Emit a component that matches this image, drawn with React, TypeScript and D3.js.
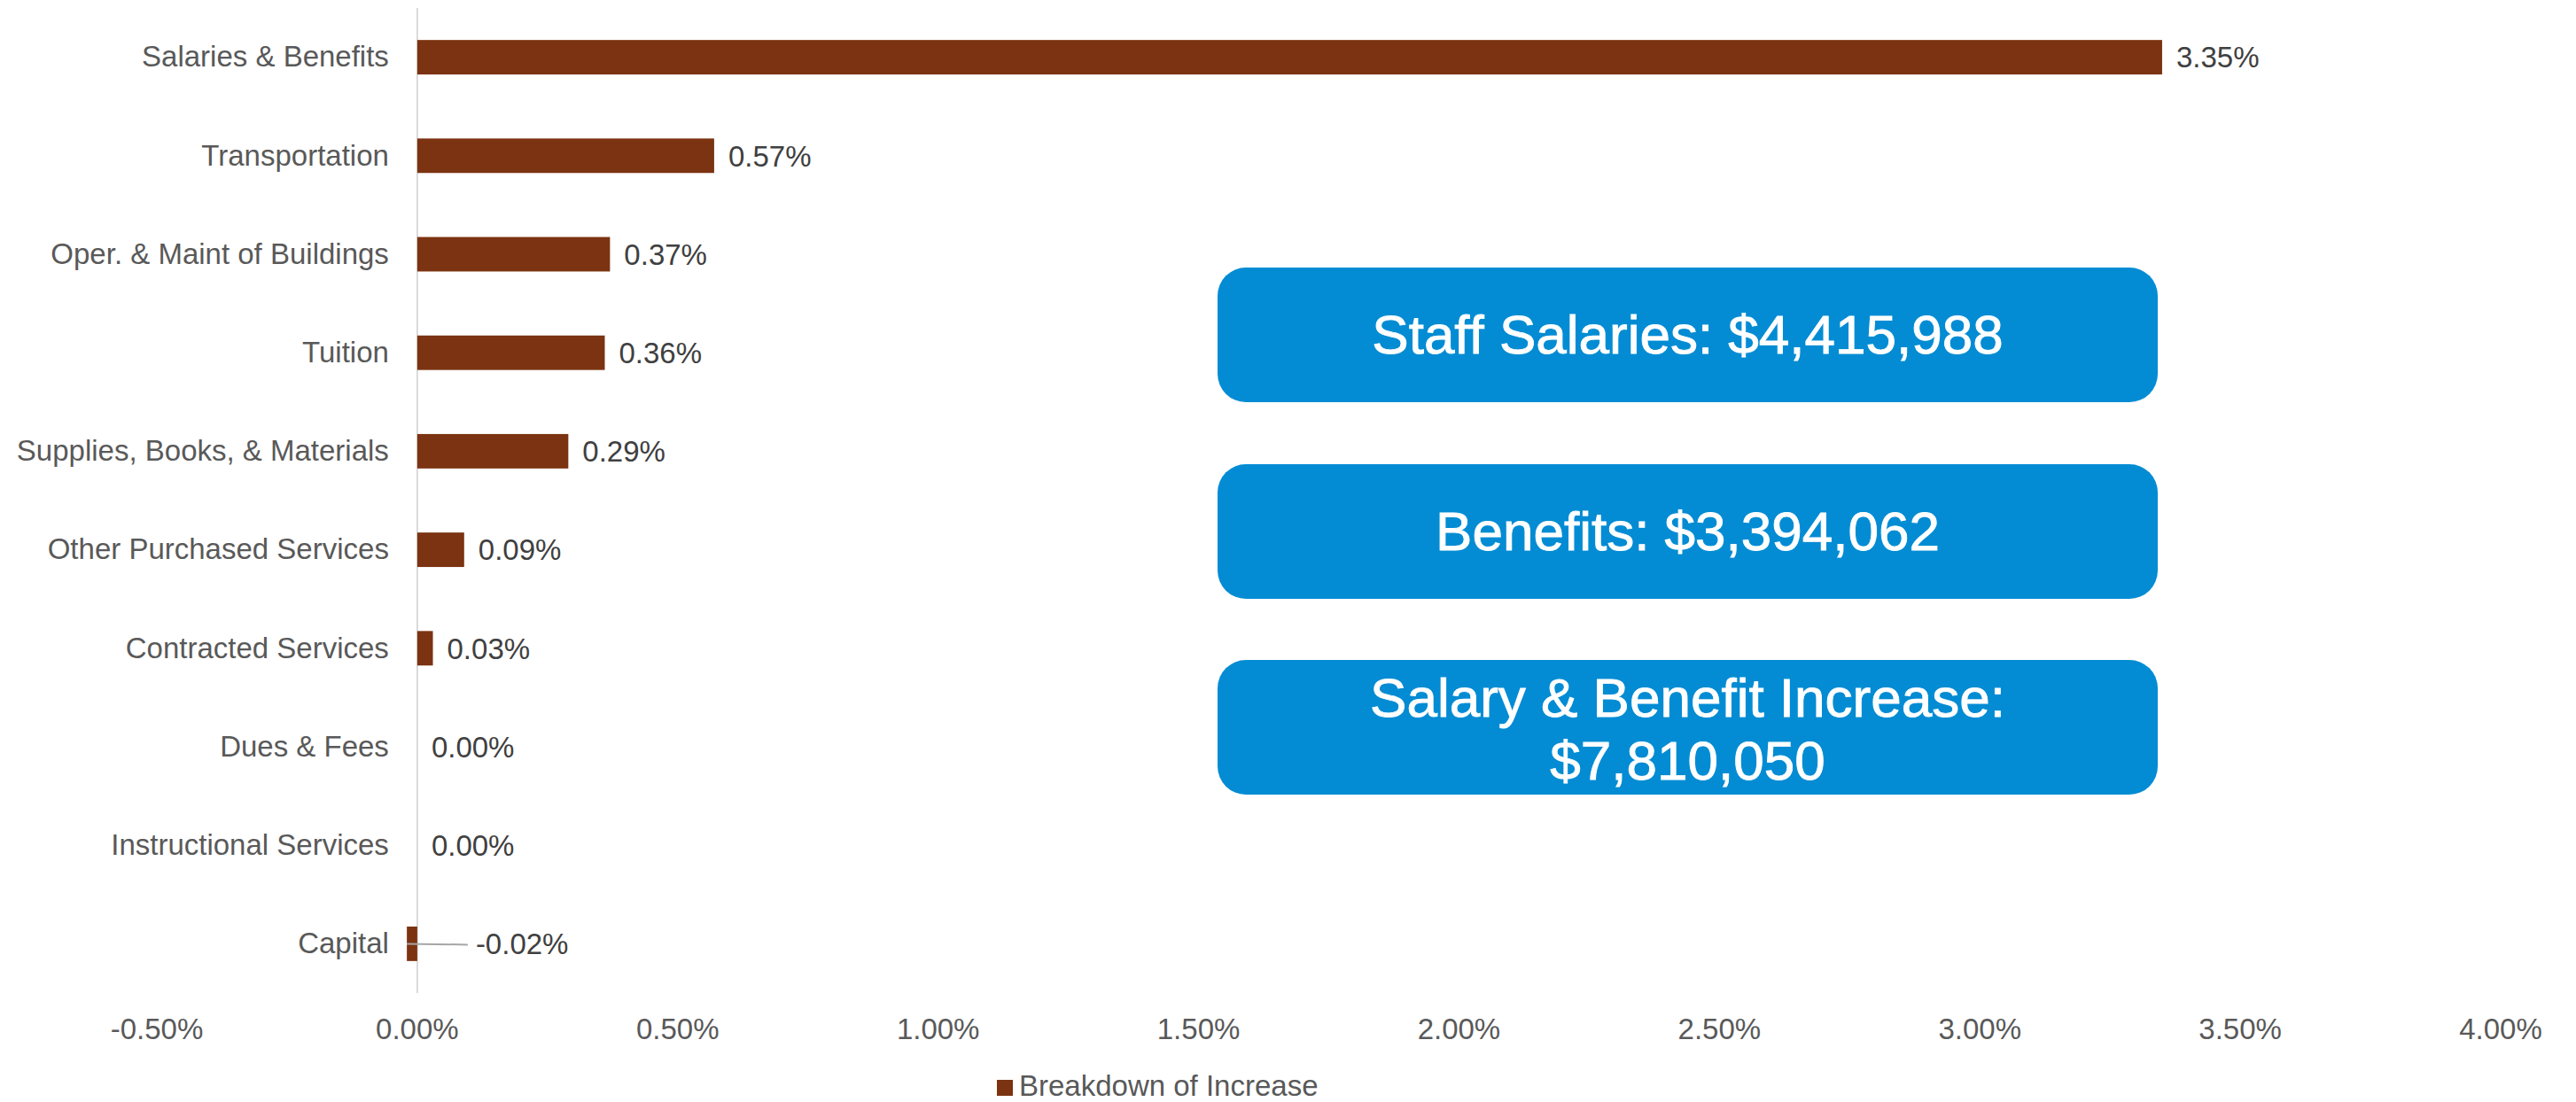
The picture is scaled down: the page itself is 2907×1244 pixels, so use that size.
import React, { useEffect, useRef } from 'react';
import * as d3 from 'd3';

const categories = [
  'Salaries & Benefits',
  'Transportation',
  'Oper. & Maint of Buildings',
  'Tuition',
  'Supplies, Books, & Materials',
  'Other Purchased Services',
  'Contracted Services',
  'Dues & Fees',
  'Instructional Services',
  'Capital',
];
const increase = [3.35, 0.57, 0.37, 0.36, 0.29, 0.09, 0.03, 0.0, 0.0, -0.02];
const xTicks = [-0.5, 0, 0.5, 1, 1.5, 2, 2.5, 3, 3.5, 4];
const seriesName = 'Breakdown of Increase';
const callouts = [
  ['Staff Salaries: $4,415,988'],
  ['Benefits: $3,394,062'],
  ['Salary & Benefit Increase:', '$7,810,050'],
];

const W = 2907;
const H = 1244;
const FONT = '"Liberation Sans", Arial, sans-serif';
const BAR = '#7B3311';
const BLUE = '#038CD4';

const App = () => {
  const svgRef = useRef<SVGSVGElement>(null);

  useEffect(() => {
    const svg = d3.select(svgRef.current);
    svg.selectAll('*').remove();

    const x = d3.scaleLinear().domain([-0.5, 4]).range([177, 2822]);
    const y = d3.scaleBand<string>()
      .domain(categories)
      .range([9, 1121])
      .paddingInner(0.65)
      .paddingOuter(0.325);

    const rows = categories.map((c, i) => ({ cat: c, v: increase[i] }));

    // zero line
    svg.append('line')
      .attr('x1', x(0)).attr('x2', x(0))
      .attr('y1', 9).attr('y2', 1121)
      .attr('stroke', '#D9D9D9').attr('stroke-width', 2);

    svg.selectAll('rect.bar')
      .data(rows)
      .enter()
      .append('rect')
      .attr('class', 'bar')
      .attr('x', d => x(Math.min(0, d.v)))
      .attr('y', d => y(d.cat)!)
      .attr('width', d => Math.abs(x(d.v) - x(0)))
      .attr('height', y.bandwidth())
      .attr('fill', BAR);

    svg.selectAll('text.cat')
      .data(rows)
      .enter()
      .append('text')
      .attr('x', x(0) - 32)
      .attr('y', d => y(d.cat)! + y.bandwidth() / 2)
      .attr('dy', '0.33em')
      .attr('text-anchor', 'end')
      .attr('font-family', FONT)
      .attr('font-size', 33)
      .attr('fill', '#595959')
      .text(d => d.cat);

    // value labels, the negative one is pulled out with a leader line
    const pct = (v: number) => v.toFixed(2) + '%';
    rows.forEach(d => {
      const cy = y(d.cat)! + y.bandwidth() / 2;
      let lx = x(d.v) + 16;
      if (d.v < 0) {
        svg.append('line')
          .attr('x1', x(d.v)).attr('x2', x(0) + 57)
          .attr('y1', cy).attr('y2', cy + 1)
          .attr('stroke', '#A6A6A6').attr('stroke-width', 2);
        lx = x(0) + 66;
      }
      svg.append('text')
        .attr('x', lx)
        .attr('y', cy)
        .attr('dy', '0.36em')
        .attr('font-family', FONT)
        .attr('font-size', 33)
        .attr('fill', '#404040')
        .text(pct(d.v));
    });

    svg.selectAll('text.tick')
      .data(xTicks)
      .enter()
      .append('text')
      .attr('x', d => x(d))
      .attr('y', 1173)
      .attr('text-anchor', 'middle')
      .attr('font-family', FONT)
      .attr('font-size', 33)
      .attr('fill', '#595959')
      .text(d => d.toFixed(2) + '%');

    // legend
    svg.append('rect')
      .attr('x', 1125).attr('y', 1219)
      .attr('width', 18).attr('height', 18)
      .attr('fill', BAR);
    svg.append('text')
      .attr('x', 1150).attr('y', 1237)
      .attr('font-family', FONT)
      .attr('font-size', 33)
      .attr('fill', '#595959')
      .text(seriesName);

    // callout boxes
    const boxTop = [302, 524, 745];
    callouts.forEach((lines, i) => {
      const g = svg.append('g');
      g.append('rect')
        .attr('x', 1374).attr('y', boxTop[i])
        .attr('width', 1061).attr('height', 152)
        .attr('rx', 32).attr('ry', 32)
        .attr('fill', BLUE);
      const cy = boxTop[i] + 76;
      lines.forEach((t, j) => {
        const base = lines.length === 1 ? cy + 21 : boxTop[i] + 64 + j * 71;
        g.append('text')
          .attr('x', 1374 + 1061 / 2)
          .attr('y', base)
          .attr('text-anchor', 'middle')
          .attr('font-family', FONT)
          .attr('font-size', 62)
          .attr('fill', '#FFFFFF')
          .attr('stroke', '#FFFFFF')
          .attr('stroke-width', 0.9)
          .text(t);
      });
    });
  }, []);

  return (
    <div style={{ position: 'absolute', left: 0, top: 0, background: '#fff' }}>
      <svg ref={svgRef} width={W} height={H} style={{ display: 'block' }} />
    </div>
  );
};

export default App;
